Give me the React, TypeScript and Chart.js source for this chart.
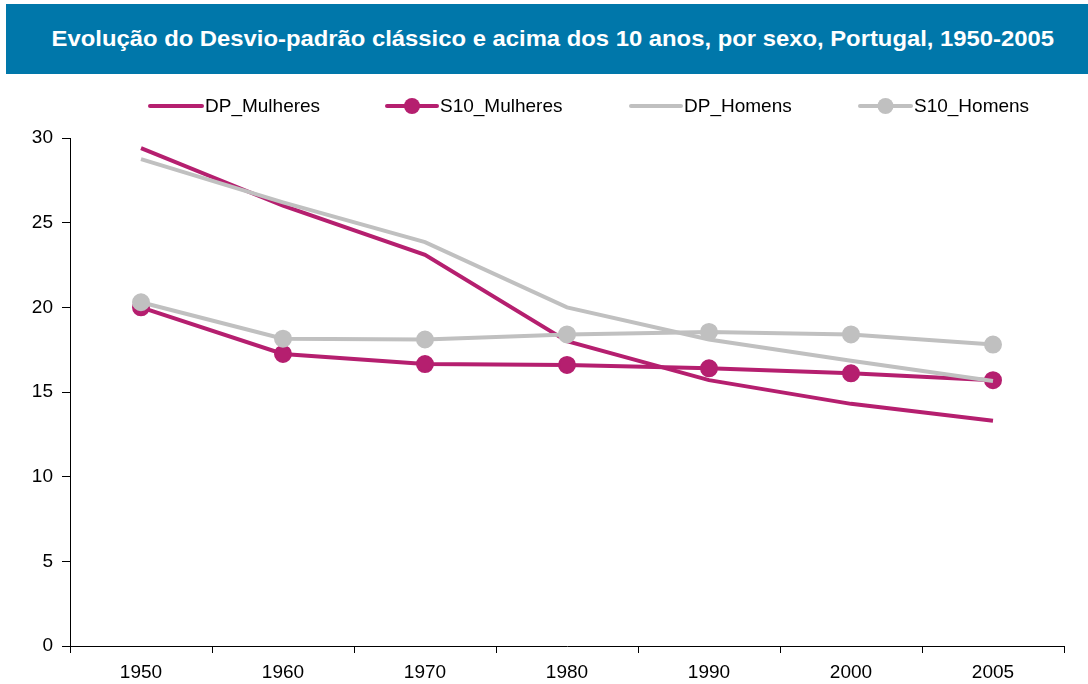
import React, { useEffect, useRef } from "react";
import { Chart, registerables } from "chart.js";

Chart.register(...registerables);

const TITLE = "Evolução do Desvio-padrão clássico e acima dos 10 anos, por sexo, Portugal, 1950-2005";
const categories = ["1950", "1960", "1970", "1980", "1990", "2000", "2005"];
const dpMulheres = [29.4, 26.0, 23.1, 18.0, 15.7, 14.3, 13.3];
const s10Mulheres = [20.0, 17.25, 16.65, 16.6, 16.4, 16.1, 15.7];
const dpHomens = [28.75, 26.2, 23.85, 20.0, 18.1, 16.85, 15.65];
const s10Homens = [20.3, 18.15, 18.1, 18.4, 18.55, 18.4, 17.8];
const yTicks = [0, 5, 10, 15, 20, 25, 30];

const MAGENTA = "#B51F6F";
const GREY = "#C0C0C0";
const FONT = "Arial, 'Liberation Sans', sans-serif";

const legendItems = [
  { label: "DP_Mulheres", color: MAGENTA, marker: false, x0: 150, x1: 202, tx: 205 },
  { label: "S10_Mulheres", color: MAGENTA, marker: true, x0: 387, x1: 437, tx: 440 },
  { label: "DP_Homens", color: GREY, marker: false, x0: 631, x1: 681, tx: 684 },
  { label: "S10_Homens", color: GREY, marker: true, x0: 860, x1: 911, tx: 914 },
];

const legendPlugin = {
  id: "customLegend",
  afterDraw(chart: any) {
    const ctx = chart.ctx;
    const y = 106;
    ctx.save();
    legendItems.forEach((it) => {
      ctx.strokeStyle = it.color;
      ctx.lineWidth = 4;
      ctx.lineCap = "round";
      ctx.beginPath();
      ctx.moveTo(it.x0, y);
      ctx.lineTo(it.x1, y);
      ctx.stroke();
      if (it.marker) {
        ctx.fillStyle = it.color;
        ctx.beginPath();
        ctx.arc((it.x0 + it.x1) / 2, y, 8, 0, Math.PI * 2);
        ctx.fill();
      }
      ctx.fillStyle = "#000";
      ctx.font = `19px ${FONT}`;
      ctx.textBaseline = "middle";
      ctx.textAlign = "left";
      ctx.fillText(it.label, it.tx, y + 1);
    });
    ctx.restore();
  },
};

export default function App() {
  const ref = useRef<HTMLCanvasElement>(null);
  useEffect(() => {
    document.body.style.margin = "0";
    const mk = (label: string, data: number[], color: string, points: boolean, order: number) => ({
      label,
      data,
      borderColor: color,
      backgroundColor: color,
      borderWidth: 4,
      pointRadius: points ? 8 : 0,
      pointBorderWidth: 2,
      pointBackgroundColor: color,
      pointBorderColor: color,
      tension: 0,
      order,
    });
    const chart = new Chart(ref.current!, {
      type: "line",
      data: {
        labels: categories,
        datasets: [
          mk("DP_Mulheres", dpMulheres, MAGENTA, false, 3),
          mk("S10_Mulheres", s10Mulheres, MAGENTA, true, 2),
          mk("DP_Homens", dpHomens, GREY, false, 1),
          mk("S10_Homens", s10Homens, GREY, true, 0),
        ],
      },
      options: {
        animation: false,
        responsive: false,
        devicePixelRatio: 1,
        layout: { padding: { top: 138, right: 24, left: 0, bottom: 0 } },
        plugins: { legend: { display: false }, tooltip: { enabled: false }, title: { display: false } },
        scales: {
          x: {
            offset: true,
            grid: { offset: true, drawOnChartArea: false, drawTicks: true, tickLength: 7, color: "#000" },
            border: { color: "#000", width: 1 },
            ticks: { color: "#000", font: { family: FONT, size: 19 }, padding: 8, maxRotation: 0 },
            afterFit: (s: any) => { s.height = 38; },
          },
          y: {
            min: 0,
            max: 30,
            afterBuildTicks: (s: any) => { s.ticks = yTicks.map((v) => ({ value: v })); },
            grid: { drawOnChartArea: false, drawTicks: true, tickLength: 8, color: "#000" },
            border: { color: "#000", width: 1 },
            ticks: { color: "#000", font: { family: FONT, size: 19 }, padding: 9 },
            afterFit: (s: any) => { s.width = 70; },
          },
        },
      },
      plugins: [legendPlugin],
    });
    return () => chart.destroy();
  }, []);
  return (
    <div style={{ position: "relative", width: 1088, height: 684, background: "#fff" }}>
      <canvas ref={ref} width={1088} height={684} style={{ position: "absolute", left: 0, top: 0 }} />
      <div
        style={{
          position: "absolute",
          left: 6,
          top: 4,
          width: 1082,
          height: 70,
          background: "#0077AA",
          color: "#fff",
          fontFamily: FONT,
          fontWeight: "bold",
          fontSize: 22,
          display: "flex",
          alignItems: "center",
          justifyContent: "center",
          paddingLeft: 11,
          boxSizing: "border-box",
          whiteSpace: "nowrap",
        }}
      >
        <span style={{ display: "inline-block", transform: "scaleX(1.083)" }}>{TITLE}</span>
      </div>
    </div>
  );
}
